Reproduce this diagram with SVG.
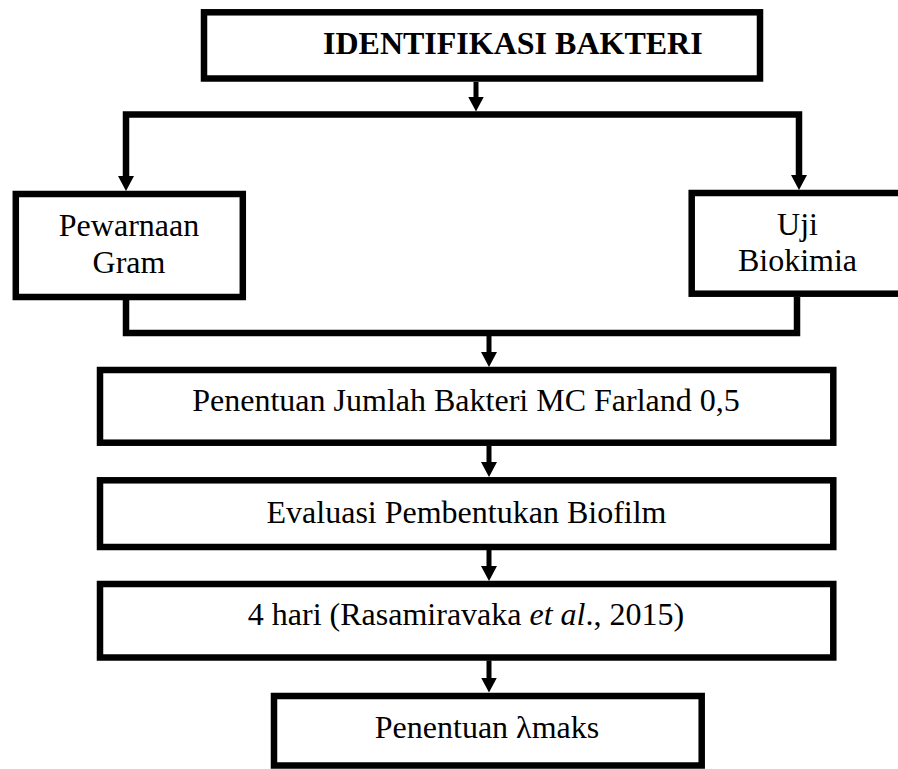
<svg xmlns="http://www.w3.org/2000/svg" width="898" height="769" viewBox="0 0 898 769">
<defs>
<style>
.box{fill:#fff;stroke:#000;stroke-width:6.5}
.c{fill:none;stroke:#000;stroke-linejoin:miter}
.thick{stroke-width:6.5}
.thin{stroke-width:5}
</style>
<marker id="ah" viewBox="0 0 15 16" refX="5" refY="8" markerWidth="15" markerHeight="16" markerUnits="userSpaceOnUse" orient="auto-start-reverse">
<path d="M0,0 L15,8 L0,16 z" fill="#000"/>
</marker>
</defs>
<rect width="898" height="769" fill="#fff"/>
<g id="connectors">
<path class="c thin" d="M476,82 V101.5" marker-end="url(#ah)"/>
<path class="c thick" d="M126,181 V114.5 H799 V180" marker-start="url(#ah)" marker-end="url(#ah)"/>
<path class="c thick" d="M126,300 V333 H797 V297"/>
<path class="c thin" d="M489,336 V357" marker-end="url(#ah)"/>
<path class="c thin" d="M489,446 V467" marker-end="url(#ah)"/>
<path class="c thin" d="M489,550 V571" marker-end="url(#ah)"/>
<path class="c thin" d="M489,660.5 V682.5" marker-end="url(#ah)"/>
</g>
<g font-family="Liberation Serif, serif" font-size="32" fill="#000" text-anchor="middle">
<g id="identifikasi">
<rect class="box" x="204" y="12.3" width="556" height="66.2"/>
<text x="323" y="54.3" font-weight="bold" text-anchor="start">IDENTIFIKASI BAKTERI</text>
</g>
<g id="pewarnaan">
<rect class="box" x="15.8" y="194" width="227" height="103"/>
<text x="129" y="236">Pewarnaan</text>
<text x="129" y="272.5">Gram</text>
</g>
<g id="uji">
<rect class="box" x="691.7" y="193" width="211" height="100.7"/>
<text x="797.5" y="235">Uji</text>
<text x="797.5" y="270.7">Biokimia</text>
</g>
<g id="jumlah">
<rect class="box" x="100" y="370" width="733.3" height="72.7"/>
<text x="466" y="410.7">Penentuan Jumlah Bakteri MC Farland 0,5</text>
</g>
<g id="evaluasi">
<rect class="box" x="100" y="480.3" width="733.3" height="66.7"/>
<text x="466.5" y="522.7">Evaluasi Pembentukan Biofilm</text>
</g>
<g id="hari">
<rect class="box" x="100" y="584" width="733.3" height="73.5"/>
<text x="466" y="625">4 hari (Rasamiravaka <tspan font-style="italic">et al</tspan>., 2015)</text>
</g>
<g id="lambda">
<rect class="box" x="274" y="696" width="427.7" height="69.5"/>
<text x="487" y="738.3">Penentuan λmaks</text>
</g>
</g>
</svg>
